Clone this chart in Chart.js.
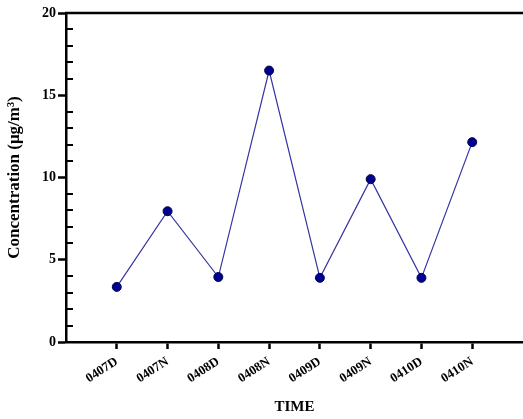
<!DOCTYPE html>
<html>
<head>
<meta charset="utf-8">
<script src="https://cdn.jsdelivr.net/npm/chart.js@4"></script>
<style>
  body { margin: 0; background: #fff; }
  #wrap { width: 523px; height: 419px; }
</style>
</head>
<body>
<div id="wrap"><canvas id="concChart" width="523" height="419"></canvas></div>
<script>
// data
const timeLabels = ['0407D', '0407N', '0408D', '0408N', '0409D', '0409N', '0410D', '0410N'];
const concValues = [3.35, 7.95, 3.95, 16.5, 3.9, 9.9, 3.9, 12.15];
const yTicks = [0, 5, 10, 15, 20];

const serif = "'Liberation Serif', 'Times New Roman', serif";

// points sit at 1..n on a linear x scale (0..n+1)
const points = concValues.map((v, i) => ({ x: i + 1, y: v }));

// minor ticks pointing inward + top border line
const frameAndMinor = {
    id: 'frameAndMinor',
    afterDraw(chart) {
        const ctx = chart.ctx;
        const area = chart.chartArea;
        const y = chart.scales.y;
        ctx.save();
        ctx.strokeStyle = '#000';
        ctx.lineWidth = 2;
        for (let v = 1; v < 20; v++) {
            if (v % 5 === 0) continue;
            const py = Math.round(y.getPixelForValue(v));
            ctx.beginPath();
            ctx.moveTo(area.left, py);
            ctx.lineTo(area.left + 7, py);
            ctx.stroke();
        }
        ctx.lineWidth = 2.5;
        ctx.beginPath();
        ctx.moveTo(area.left - 1, area.top);
        ctx.lineTo(chart.width, area.top);
        ctx.stroke();
        ctx.restore();
    }
};

new Chart(document.getElementById('concChart'), {
    type: 'line',
    data: {
        datasets: [{
            data: points,
            borderColor: '#3333a3',
            borderWidth: 1.2,
            pointBackgroundColor: '#00008f',
            pointBorderColor: '#000050',
            pointBorderWidth: 1,
            pointRadius: 4.5,
            tension: 0
        }]
    },
    options: {
        responsive: false,
        animation: false,
        layout: { autoPadding: false, padding: { top: 13, right: -4, left: 2, bottom: 2 } },
        plugins: { legend: { display: false }, tooltip: { enabled: false } },
        scales: {
            x: {
                type: 'linear',
                min: 0,
                max: timeLabels.length + 1,
                afterBuildTicks: (axis) => {
                    axis.ticks = timeLabels.map((_, i) => ({ value: i + 1 }));
                },
                afterFit: (axis) => {
                    axis.height = 75;
                    axis.paddingLeft = 0;
                    axis.paddingRight = 0;
                },
                ticks: {
                    autoSkip: false,
                    minRotation: 33,
                    maxRotation: 33,
                    padding: 5,
                    color: '#000',
                    font: { family: serif, size: 13, weight: 'bold' },
                    callback: (v) => timeLabels[v - 1] || ''
                },
                grid: { drawOnChartArea: false, tickLength: 7, tickWidth: 2.5, color: '#000' },
                border: { color: '#000', width: 2.5 },
                title: {
                    display: true,
                    text: 'TIME',
                    color: '#000',
                    font: { family: serif, size: 15, weight: 'bold' },
                    padding: { top: 4, bottom: 1 }
                }
            },
            y: {
                min: 0,
                max: 20,
                afterBuildTicks: (axis) => {
                    axis.ticks = yTicks.map(v => ({ value: v }));
                },
                afterFit: (axis) => {
                    axis.width = 64;
                    axis.paddingTop = 0;
                    axis.paddingBottom = 0;
                },
                ticks: {
                    padding: 2,
                    color: '#000',
                    font: { family: serif, size: 14, weight: 'bold' }
                },
                grid: { drawOnChartArea: false, tickLength: 8, tickWidth: 2.5, color: '#000' },
                border: { color: '#000', width: 2.5 },
                title: {
                    display: true,
                    text: 'Concentration (μg/m³)',
                    color: '#000',
                    font: { family: serif, size: 17, weight: 'bold' },
                    padding: { top: 2, bottom: 3 }
                }
            }
        }
    },
    plugins: [frameAndMinor]
});
</script>
</body>
</html>
